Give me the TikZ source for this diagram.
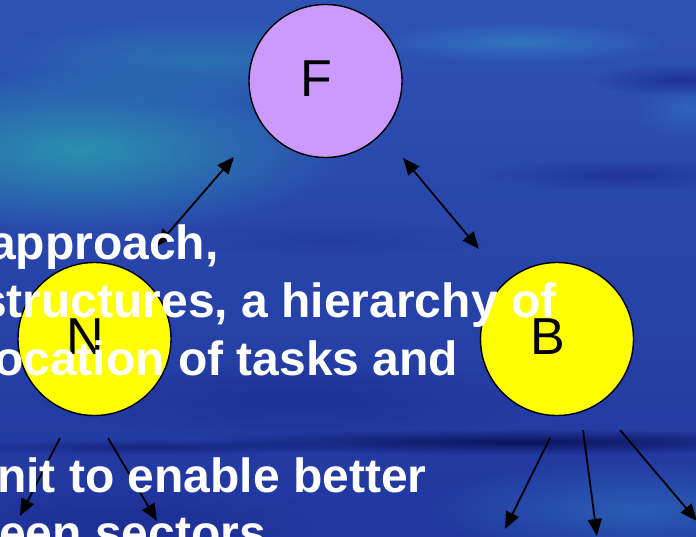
\documentclass[tikz,border=0pt]{standalone}
\usepackage{fontspec}
\setmainfont{Liberation Sans}
\usetikzlibrary{arrows.meta,fadings}
\tikzfading[name=blob, inner color=transparent!0, outer color=transparent!100]
\definecolor{bgtop}{HTML}{2E52B4}
\definecolor{bgmid}{HTML}{2A3CA6}
\definecolor{bgbot}{HTML}{2136A0}
\definecolor{tealA}{HTML}{2A94B0}
\definecolor{tealB}{HTML}{3384C4}
\definecolor{navy}{HTML}{0A1258}
\definecolor{darkblue}{HTML}{1A2888}
\definecolor{lilac}{HTML}{CC99FF}
\definecolor{yel}{HTML}{FFFF00}
\begin{document}
\begin{tikzpicture}[x=1pt,y=-1pt,
  circ/.style={circle, draw=black, line width=1.4pt, minimum size=153pt, inner sep=0pt},
  lbl/.style={font=\fontsize{52}{52}\selectfont, text=black, xshift=-9pt, yshift=2pt, inner sep=0pt},
  arr/.style={line width=1.8pt, -{Triangle[length=17pt,width=14pt]}},
  darr/.style={line width=1.8pt, {Triangle[length=17pt,width=14pt]}-{Triangle[length=17pt,width=14pt]}},
  body/.style={font=\bfseries\fontsize{48}{57.6}\selectfont, text=white, anchor=base west, inner sep=0pt},
  glow/.style={path fading=blob}]
\useasboundingbox (0,0) rectangle (696,537);
\clip (0,0) rectangle (696,537);
% background
\shade[top color=bgtop, middle color=bgmid, bottom color=bgbot] (0,0) rectangle (696,537);
\fill[tealA, glow, fill opacity=0.95] (80,150) ellipse [x radius=270pt, y radius=85pt];
\fill[tealA, glow, fill opacity=0.5] (200,60) ellipse [x radius=220pt, y radius=45pt];
\fill[tealB, glow, fill opacity=0.7] (520,42) ellipse [x radius=150pt, y radius=22pt];
\fill[tealB, glow, fill opacity=0.4] (690,110) ellipse [x radius=60pt, y radius=30pt];
\fill[darkblue, glow, fill opacity=0.7] (680,80) ellipse [x radius=90pt, y radius=16pt];
\fill[darkblue, glow, fill opacity=0.6] (620,175) ellipse [x radius=140pt, y radius=16pt];
\fill[darkblue, glow, fill opacity=0.3] (330,240) ellipse [x radius=160pt, y radius=20pt];
\fill[darkblue, glow, fill opacity=0.6] (300,400) ellipse [x radius=260pt, y radius=40pt];
\fill[navy, glow, fill opacity=0.95] (520,442) ellipse [x radius=330pt, y radius=13pt];
\fill[navy, glow, fill opacity=0.5] (150,447) ellipse [x radius=200pt, y radius=8pt];
\fill[tealB, glow, fill opacity=0.5] (640,510) ellipse [x radius=220pt, y radius=50pt];
\fill[darkblue, glow, fill opacity=0.5] (120,520) ellipse [x radius=200pt, y radius=40pt];
% circles
\node[circ, fill=lilac, label={[lbl]center:F}] (F) at (325.5,81) {};
\node[circ, fill=yel, label={[lbl]center:N}] (N) at (94.5,339) {};
\node[circ, fill=yel, label={[lbl]center:B}] (B) at (557,339) {};
% arrow end points
\coordinate (fa) at (157,246);
\coordinate (fb) at (234,157);
\coordinate (fc) at (403,158);
\coordinate (fd) at (479,249);
\coordinate (n1s) at (60,438);
\coordinate (n1e) at (20,516);
\coordinate (n2s) at (108,438);
\coordinate (n2e) at (157,521);
\coordinate (b1s) at (550,438);
\coordinate (b1e) at (505,529);
\coordinate (b2s) at (583,430);
\coordinate (b2e) at (597,536);
\coordinate (b3s) at (620,430);
\coordinate (b3e) at (697,521);
\draw[darr] (fa) -- (fb);
\draw[darr] (fc) -- (fd);
\draw[arr] (n1s) -- (n1e);
\draw[arr] (n2s) -- (n2e);
\draw[arr] (b1s) -- (b1e);
\draw[arr] (b2s) -- (b2e);
\draw[arr] (b3s) -- (b3e);
% text
\node[body] (t1) at (-11,260) {approach,};
\node[body] (t2) at (-20,317) {structures, a hierarchy of};
\node[body] (t3) at (-6,375) {ocation of tasks and};
\node[body] (t5) at (-3,492) {nit to enable better};
\node[body] (t6) at (-1,549) {een sectors};
\end{tikzpicture}
\end{document}
